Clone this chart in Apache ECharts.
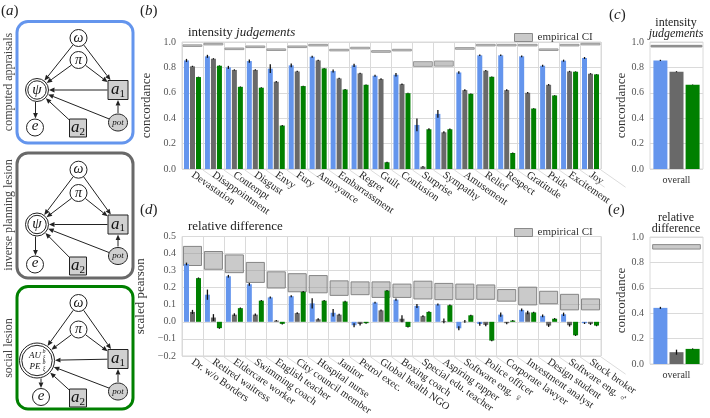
<!DOCTYPE html>
<html><head><meta charset="utf-8">
<script src="https://cdn.jsdelivr.net/npm/echarts@6/dist/echarts.min.js"></script>
<style>html,body{margin:0;padding:0;background:#fff}#c{width:710px;height:418px}</style>
</head><body><div id="c"></div>
<script>
// ---------- data ----------
const emotions = ['Devastation','Disappointment','Contempt','Disgust','Envy','Fury','Annoyance','Embarrassment','Regret','Guilt','Confusion','Surprise','Sympathy','Amusement','Relief','Respect','Gratitude','Pride','Excitement','Joy'];
const intFull = [0.855,0.887,0.800,0.850,0.790,0.816,0.884,0.771,0.816,0.734,0.742,0.347,0.434,0.760,0.895,0.895,0.887,0.813,0.853,0.874];
const intInv  = [0.808,0.868,0.780,0.780,0.687,0.768,0.855,0.713,0.753,0.708,0.668,0.018,0.289,0.621,0.774,0.621,0.600,0.663,0.768,0.750];
const intSoc  = [0.724,0.813,0.647,0.640,0.342,0.653,0.792,0.626,0.663,0.053,0.597,0.313,0.313,0.592,0.726,0.126,0.476,0.579,0.766,0.745];
const intFullErr = [0.012,0.012,0.012,0.013,0.035,0.015,0.008,0.012,0.013,0.008,0.014,0.05,0.03,0.010,0.006,0.006,0.007,0.008,0.008,0.008];
const intInvErr  = [0.005,0.005,0.005,0.005,0.006,0.005,0.005,0.005,0.005,0.006,0.006,0.005,0.008,0.006,0.005,0.006,0.006,0.006,0.005,0.005];
const intSocErr  = [0.003,0.003,0.003,0.003,0.005,0.003,0.003,0.003,0.003,0.005,0.003,0.007,0.006,0.003,0.003,0.004,0.003,0.003,0.003,0.003];
const intCILow  = [0.965,0.977,0.940,0.956,0.933,0.956,0.969,0.930,0.946,0.919,0.930,0.808,0.810,0.943,0.969,0.969,0.969,0.933,0.969,0.977];
const intCIHigh = [0.976,0.988,0.952,0.967,0.945,0.967,0.980,0.941,0.957,0.930,0.941,0.845,0.850,0.955,0.980,0.980,0.980,0.945,0.980,0.988];

const jobs = ['Dr. w/o Borders','Retired waitress','Eldercare worker','Swimming coach','English teacher','City council member','Hospital nurse','Janitor','Petrol exec.','Global health NGO','Boxing coach','Special edu. teacher','Aspiring rapper','Software eng. \u2640','Police officer','Corporate lawyer','Investment analyst','Design student','Software eng. \u2642','Stock broker'];
const relFull = [0.339,0.159,0.267,0.220,0.143,0.150,0.108,0.053,-0.020,0.113,0.130,0.093,0.102,-0.038,-0.013,0.042,0.070,0.035,0.044,-0.008];
const relInv  = [0.058,0.025,0.042,0.042,0.007,0.051,0.015,0.042,-0.013,0.067,0.018,0.033,0.005,0.002,-0.018,-0.008,0.055,-0.022,-0.020,-0.012];
const relSoc  = [0.256,-0.037,0.080,0.124,-0.012,0.176,0.124,0.119,-0.008,0.183,-0.030,0.058,0.097,0.038,-0.110,0.007,0.055,0.018,-0.079,-0.022];
const relFullErr = [0.008,0.030,0.008,0.008,0.006,0.006,0.030,0.022,0.012,0.005,0.007,0.012,0.006,0.012,0.010,0.012,0.008,0.008,0.010,0.005];
const relInvErr  = [0.012,0.020,0.008,0.007,0.004,0.005,0.006,0.005,0.008,0.005,0.020,0.005,0.014,0.008,0.008,0.006,0.010,0.008,0.008,0.006];
const relSocErr  = [0.004,0.004,0.004,0.004,0.004,0.004,0.004,0.004,0.004,0.004,0.004,0.004,0.004,0.004,0.004,0.004,0.004,0.004,0.004,0.004];
const relCILow  = [0.330,0.308,0.288,0.231,0.198,0.176,0.170,0.155,0.159,0.143,0.143,0.134,0.130,0.132,0.132,0.121,0.099,0.106,0.070,0.070];
const relCIHigh = [0.442,0.412,0.392,0.348,0.293,0.282,0.271,0.240,0.234,0.234,0.221,0.238,0.225,0.221,0.216,0.189,0.203,0.179,0.161,0.134];

const overallCat = ['overall'];
const intOverall = [0.855, 0.766, 0.663];
const intOverallErr = [0.005, 0.004, 0.002];
const intOverallCI = [0.961, 0.971];
const relOverall = [0.442, 0.093, 0.119];
const relOverallErr = [0.008, 0.02, 0.004];
const relOverallCI = [0.905, 0.940];

const yTicksInt = {min: 0, max: 1, interval: 0.2};
const yTicksRel = {min: -0.2, max: 0.5, interval: 0.1};

// ---------- styles ----------
const FONT = '"Liberation Serif","DejaVu Serif",serif';
const COLORS = ['#6495ED', '#696969', '#008000'];
const GRIDC = '#dadada';

const chart = echarts.init(document.getElementById('c'));

function ciSeries(name, xi, cats, lo, hi, frac, fill, stroke) {
  return {
    name: name, type: 'custom', xAxisIndex: xi, yAxisIndex: xi, z: 1,
    itemStyle: {color: fill, borderColor: stroke},
    data: cats.map((c, i) => [i, lo[i], hi[i]]),
    renderItem: function (params, api) {
      const i = api.value(0);
      const a = api.coord([i, api.value(1)]);
      const b = api.coord([i, api.value(2)]);
      const w = api.size([1, 0])[0] * frac;
      const h = Math.max(a[1] - b[1], 1.6);
      return {type: 'rect', shape: {x: a[0] - w / 2, y: a[1] - h, width: w, height: h},
        style: {fill: fill, stroke: stroke, lineWidth: 1}};
    }
  };
}
function barSeries(xi, vals, color, bw, gap) {
  return {type: 'bar', xAxisIndex: xi, yAxisIndex: xi, data: vals, barWidth: bw, barGap: gap,
    itemStyle: {color: color}, z: 2, silent: true};
}
function errSeries(xi, vals, errs, offset) {
  return {type: 'custom', xAxisIndex: xi, yAxisIndex: xi, z: 3, silent: true,
    data: vals.map((v, i) => [i, v, errs[i]]),
    renderItem: function (params, api) {
      const i = api.value(0), v = api.value(1), e = api.value(2);
      const p1 = api.coord([i, v - e]), p2 = api.coord([i, v + e]);
      const x = p1[0] + offset;
      return {type: 'line', shape: {x1: x, y1: p1[1], x2: x, y2: p2[1]},
        style: {stroke: '#111', lineWidth: 1.3}};
    }};
}
// faint slanted guide lines under the rotated category labels
function labelGuideSeries(xi, cats, yBase) {
  return {type: 'custom', xAxisIndex: xi, yAxisIndex: xi, z: 0, silent: true, clip: false,
    data: cats.map((c, i) => [i, yBase]),
    renderItem: function (params, api) {
      const p = api.coord([api.value(0), api.value(1)]);
      const x = p[0] + api.size([1, 0])[0] / 2, y = p[1] + 1;
      const L = 30, ang = 35 * Math.PI / 180;
      return {type: 'line', shape: {x1: x, y1: y, x2: x + L * Math.cos(ang), y2: y + L * Math.sin(ang)},
        style: {stroke: '#dcdcdc', lineWidth: 1}};
    }};
}
const fmt = v => (v < -1e-9 ? '\u2212' : '') + Math.abs(v).toFixed(1);

function catAxis(gi, data, rot) {
  return {gridIndex: gi, type: 'category', data: data,
    axisLine: {show: false}, axisTick: {show: false},
    splitLine: {show: rot, lineStyle: {color: GRIDC}},
    axisLabel: rot ? {rotate: -35, interval: 0, margin: 5, fontSize: 10.5, color: '#222', fontFamily: FONT}
                   : {fontSize: 10, color: '#333', margin: 6, fontFamily: FONT}};
}
function valAxis(gi, t, name, gap) {
  return {gridIndex: gi, type: 'value', min: t.min, max: t.max, interval: t.interval,
    name: name, nameLocation: 'middle', nameGap: gap,
    nameTextStyle: {fontSize: 13, color: '#333', fontFamily: FONT},
    axisLine: {show: false}, axisTick: {show: false},
    axisLabel: {formatter: fmt, fontSize: 10, color: '#555', margin: 6, fontFamily: FONT},
    splitLine: {lineStyle: {color: GRIDC}}};
}

// ---------- diagram (panel a) ----------
function diagram(top, h, color, ys, social) {
  const els = [];
  const N = {
    w: {x: 78.5, y: top + ys[0], r: 8.5, shape: 'c'},
    p: {x: 78.5, y: top + ys[1], r: 8.5, shape: 'c'},
    s: {x: 37, y: top + ys[2], r: social ? 17.5 : 11.5, shape: 'c'},
    a1: {x: 118, y: top + ys[3], hw: 10, hh: 9.5, shape: 'r'},
    pot: {x: 118, y: top + ys[4], r: 9, shape: 'c'},
    e: {x: social ? 41 : 35, y: top + ys[5], r: 8.5, shape: 'c'},
    a2: {x: 78, y: top + ys[6], hw: 8.5, hh: 9, shape: 'r'}
  };
  els.push({type: 'rect', shape: {x: 17, y: top, width: 116, height: h, r: 11},
    style: {fill: '#fff', stroke: color, lineWidth: 3}});
  function clip(n, ux, uy) {
    if (n.shape === 'c') return n.r + 0.5;
    const tx = Math.abs(ux) > 1e-6 ? n.hw / Math.abs(ux) : 1e9;
    const ty = Math.abs(uy) > 1e-6 ? n.hh / Math.abs(uy) : 1e9;
    return Math.min(tx, ty) + 0.5;
  }
  function arrow(s, t, vx) {
    const sx = vx != null ? vx : s.x, tx = vx != null ? vx : t.x;
    const dx = tx - sx, dy = t.y - s.y, L = Math.hypot(dx, dy);
    const ux = dx / L, uy = dy / L;
    const x1 = sx + ux * clip(s, ux, uy), y1 = s.y + uy * clip(s, ux, uy);
    const x2 = tx - ux * clip(t, ux, uy), y2 = t.y - uy * clip(t, ux, uy);
    const hl = 5.5, hw = 2.4;
    const bx = x2 - ux * hl, by = y2 - uy * hl;
    els.push({type: 'line', shape: {x1: x1, y1: y1, x2: bx, y2: by}, style: {stroke: '#222', lineWidth: 1}});
    els.push({type: 'polygon', shape: {points: [[x2, y2], [bx - uy * hw, by + ux * hw], [bx + uy * hw, by - ux * hw]]},
      style: {fill: '#222'}});
  }
  arrow(N.w, N.s); arrow(N.w, N.a1); arrow(N.p, N.s); arrow(N.p, N.a1);
  arrow(N.a1, N.s); arrow(N.pot, N.s); arrow(N.pot, N.a1); arrow(N.a2, N.s);
  arrow(N.s, N.e, social ? 41 : 35.5);
  const circ = (n, fill) => els.push({type: 'circle', shape: {cx: n.x, cy: n.y, r: n.r},
    style: {fill: fill || '#fff', stroke: '#222', lineWidth: 1}});
  circ(N.w); circ(N.p); circ(N.e);
  circ(N.s); els.push({type: 'circle', shape: {cx: N.s.x, cy: N.s.y, r: N.s.r - 2.3},
    style: {fill: 'none', stroke: '#222', lineWidth: 1}});
  els.push({type: 'ellipse', shape: {cx: N.pot.x, cy: N.pot.y, rx: 9.5, ry: 8.5},
    style: {fill: '#d0d0d0', stroke: '#222', lineWidth: 1}});
  const rect = n => els.push({type: 'rect', shape: {x: n.x - n.hw, y: n.y - n.hh, width: 2 * n.hw, height: 2 * n.hh},
    style: {fill: '#d0d0d0', stroke: '#222', lineWidth: 1}});
  rect(N.a1); rect(N.a2);
  const txt = (x, y, t, font, rich) => els.push({type: 'text', x: x, y: y, z: 10,
    style: {text: t, font: font, fill: '#111', align: 'center', verticalAlign: 'middle', rich: rich}});
  txt(N.w.x, N.w.y, '\u03c9', 'italic 14px ' + FONT);
  txt(N.p.x, N.p.y, '\u03c0', 'italic 14px ' + FONT);
  txt(N.e.x, N.e.y - 1, 'e', 'italic 15px ' + FONT);
  txt(N.pot.x, N.pot.y, 'pot', 'italic 9px ' + FONT);
  const subRich = {a: {font: 'italic 17px ' + FONT, fill: '#111'}, n: {font: '11px ' + FONT, fill: '#111', padding: [8, 0, 0, 0]}};
  txt(N.a1.x, N.a1.y, '{a|a}{n|1}', '17px ' + FONT, subRich);
  txt(N.a2.x, N.a2.y, '{a|a}{n|2}', '17px ' + FONT, subRich);
  if (!social) {
    txt(N.s.x, N.s.y, '\u03c8', 'italic 15px ' + FONT);
  } else {
    txt(N.s.x - 2, N.s.y - 5, 'AU', 'italic 9px ' + FONT);
    txt(N.s.x + 7, N.s.y - 3, '\u03be', 'italic 6px ' + FONT);
    txt(N.s.x + 7, N.s.y - 9, 'b', 'italic 6px ' + FONT);
    txt(N.s.x - 2, N.s.y + 6, 'PE', 'italic 9px ' + FONT);
    txt(N.s.x + 7, N.s.y + 8, '\u03be', 'italic 6px ' + FONT);
    txt(N.s.x + 7, N.s.y + 2, 'b', 'italic 6px ' + FONT);
  }
  return els;
}

const panelRich = {n: {font: '15px ' + FONT, fill: '#222'}, i: {font: 'italic 15px ' + FONT, fill: '#222'}};
function panelLabel(x, y, ch) {
  return {type: 'text', x: x, y: y, style: {text: '{n|(}{i|' + ch + '}{n|)}', rich: panelRich, verticalAlign: 'middle'}};
}
function tx(x, y, t, font, align, extra) {
  return Object.assign({type: 'text', x: x, y: y, style: {text: t, font: font, fill: '#222', align: align || 'left', verticalAlign: 'middle'}}, extra || {});
}
function sideLabel(x, y, t) {
  return {type: 'text', x: x, y: y, rotation: Math.PI / 2,
    style: {text: t, font: '12px ' + FONT, fill: '#444', align: 'center', verticalAlign: 'middle'}};
}
const titleRich = {n: {font: '13px ' + FONT, fill: '#222'}, i: {font: 'italic 13px ' + FONT, fill: '#222'}};

const graphics = [].concat(
  diagram(21.5, 121.5, '#6495ED', [16.5, 38.5, 68.5, 68.5, 101, 106, 106.5], false),
  diagram(153, 125, '#696969', [16.7, 40, 71.5, 71.5, 103, 111.5, 113], false),
  diagram(286.5, 122.5, '#008000', [16.5, 43, 74, 72.5, 105, 110.5, 111.5], true),
  [
    sideLabel(9, 82, 'computed appraisals'),
    sideLabel(9, 215, 'inverse planning lesion'),
    sideLabel(9, 348, 'social lesion'),
    panelLabel(1, 11, 'a'), panelLabel(140, 11, 'b'), panelLabel(609, 15, 'c'),
    panelLabel(140, 210, 'd'), panelLabel(608, 210, 'e'),
    {type: 'text', x: 188, y: 33, style: {text: '{n|intensity }{i|judgements}', rich: titleRich, verticalAlign: 'middle'}},
    {type: 'text', x: 188, y: 227, style: {text: '{n|relative difference}', rich: titleRich, verticalAlign: 'middle'}},
    tx(676, 23, 'intensity', '12px ' + FONT, 'center'),
    tx(676, 34, 'judgements', 'italic 12px ' + FONT, 'center'),
    tx(676, 218, 'relative', '12px ' + FONT, 'center'),
    tx(676, 229, 'difference', '12px ' + FONT, 'center')
  ]
);

const legendBase = {data: ['empirical CI'], left: 509, itemWidth: 18, itemHeight: 8, icon: 'rect', selectedMode: false,
  itemStyle: {color: '#cacaca', borderColor: '#8a8a8a', borderWidth: 1},
  textStyle: {fontFamily: FONT, fontSize: 11, color: '#333'}};

const option = {
  animation: false,
  textStyle: {fontFamily: FONT},
  legend: [Object.assign({top: 27}, legendBase), Object.assign({top: 222}, legendBase)],
  grid: [
    {left: 182, top: 42, width: 419, height: 127, show: true, borderColor: GRIDC, borderWidth: 1},
    {left: 650, top: 42, width: 53, height: 127, show: true, borderColor: GRIDC, borderWidth: 1},
    {left: 182, top: 236.5, width: 419, height: 127.5, show: true, borderColor: GRIDC, borderWidth: 1},
    {left: 650, top: 237, width: 53, height: 127, show: true, borderColor: GRIDC, borderWidth: 1}
  ],
  xAxis: [catAxis(0, emotions, true), catAxis(1, overallCat, false), catAxis(2, jobs, true), catAxis(3, overallCat, false)],
  yAxis: [valAxis(0, yTicksInt, 'concordance', 26), valAxis(1, yTicksInt, 'concordance', 21),
          valAxis(2, yTicksRel, 'scaled pearson', 31), valAxis(3, yTicksInt, 'concordance', 21)],
  graphic: {elements: graphics},
  series: [
    labelGuideSeries(0, emotions, yTicksInt.min),
    labelGuideSeries(2, jobs, yTicksRel.min),
    ciSeries('empirical CI', 0, emotions, intCILow, intCIHigh, 0.9, '#c4c4c4', '#9a9a9a'),
    barSeries(0, intFull, COLORS[0], 5, '20%'), barSeries(0, intInv, COLORS[1], 5, '20%'), barSeries(0, intSoc, COLORS[2], 5, '20%'),
    errSeries(0, intFull, intFullErr, -6), errSeries(0, intInv, intInvErr, 0), errSeries(0, intSoc, intSocErr, 6),

    ciSeries('empirical CI', 1, overallCat, [intOverallCI[0]], [intOverallCI[1]], 0.96, '#9a9a9a', '#8a8a8a'),
    barSeries(1, [intOverall[0]], COLORS[0], 14, '15%'), barSeries(1, [intOverall[1]], COLORS[1], 14, '15%'), barSeries(1, [intOverall[2]], COLORS[2], 14, '15%'),
    errSeries(1, [intOverall[0]], [intOverallErr[0]], -16.1), errSeries(1, [intOverall[1]], [intOverallErr[1]], 0), errSeries(1, [intOverall[2]], [intOverallErr[2]], 16.1),

    ciSeries('empirical CI', 2, jobs, relCILow, relCIHigh, 0.86, 'rgba(150,150,150,0.5)', '#858585'),
    barSeries(2, relFull, COLORS[0], 5, '20%'), barSeries(2, relInv, COLORS[1], 5, '20%'), barSeries(2, relSoc, COLORS[2], 5, '20%'),
    errSeries(2, relFull, relFullErr, -6), errSeries(2, relInv, relInvErr, 0), errSeries(2, relSoc, relSocErr, 6),

    ciSeries('empirical CI', 3, overallCat, [relOverallCI[0]], [relOverallCI[1]], 0.9, 'rgba(150,150,150,0.5)', '#8a8a8a'),
    barSeries(3, [relOverall[0]], COLORS[0], 14, '15%'), barSeries(3, [relOverall[1]], COLORS[1], 14, '15%'), barSeries(3, [relOverall[2]], COLORS[2], 14, '15%'),
    errSeries(3, [relOverall[0]], [relOverallErr[0]], -16.1), errSeries(3, [relOverall[1]], [relOverallErr[1]], 0), errSeries(3, [relOverall[2]], [relOverallErr[2]], 16.1)
  ]
};
chart.setOption(option);
</script></body></html>
